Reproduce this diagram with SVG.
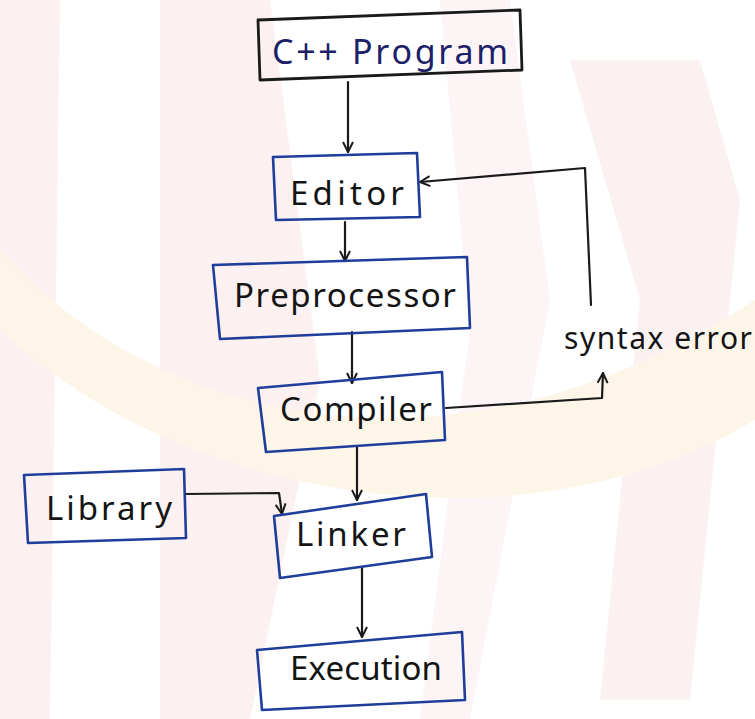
<svg xmlns="http://www.w3.org/2000/svg" width="755" height="719" viewBox="0 0 755 719">
<defs>
<style>
.box{fill:none;stroke:#1f3d9a;stroke-width:2.6;stroke-linejoin:round}
.boxk{fill:none;stroke:#1a1a1a;stroke-width:2.8;stroke-linejoin:round}
.lbl{font-family:"Noto Sans","DejaVu Sans",sans-serif;fill:#141414;font-size:33px}
.wire{fill:none;stroke:#1a1a1a;stroke-width:2.2;stroke-linecap:round;stroke-linejoin:round}
</style>
<marker id="ah" viewBox="0 0 12 12" refX="11" refY="6" markerWidth="12" markerHeight="12" markerUnits="userSpaceOnUse" orient="auto">
<path d="M1,1 L11,6 L1,11" fill="none" stroke="#1a1a1a" stroke-width="2"/>
</marker>
</defs>
<rect width="755" height="719" fill="#ffffff"/>
<g id="watermark" opacity="0.55">
<path d="M0,0 L60,0 L50,719 L0,719 Z" fill="#fbe4e4"/>
<path d="M160,0 L270,0 L320,380 L250,719 L160,719 Z" fill="#fbe4e4"/>
<path d="M440,0 L510,0 L550,300 L470,719 L420,719 L470,330 Z" fill="#fdeeee"/>
<path d="M570,60 L700,60 L740,200 L690,700 L600,700 L640,300 Z" fill="#fbe6e6"/>
<path d="M0,250 C150,420 450,500 755,300 L755,420 C520,560 180,500 0,330 Z" fill="#fdf0d6"/>
</g>
<g id="connectors">
<path class="wire" d="M348,82 L348,152" marker-end="url(#ah)"/>
<path class="wire" d="M345,222 L345,261" marker-end="url(#ah)"/>
<path class="wire" d="M352,332 L352,383" marker-end="url(#ah)"/>
<path class="wire" d="M446,408 L602,398 L603,373" marker-end="url(#ah)"/>
<path class="wire" d="M591,305 L585,168 L420,182" marker-end="url(#ah)"/>
<path class="wire" d="M357,447 L357,500" marker-end="url(#ah)"/>
<path class="wire" d="M186,494 L279,493 L282,514" marker-end="url(#ah)"/>
<path class="wire" d="M362,567 L362,637" marker-end="url(#ah)"/>
</g>
<g id="node-cpp">
<path class="boxk" d="M258,20 L520,10 L522,70 L260,80 Z"/>
<text class="lbl" x="272" y="64" textLength="236" lengthAdjust="spacing" style="fill:#1b2068;font-size:34px">C++  Program</text>
</g>
<g id="node-editor">
<path class="box" d="M273,157 L417,153 L420,217 L276,220 Z"/>
<text class="lbl" x="290" y="205" textLength="114" lengthAdjust="spacing">Editor</text>
</g>
<g id="node-preprocessor">
<path class="box" d="M213,265 L467,257 L470,328 L220,339 Z"/>
<text class="lbl" x="234" y="307" textLength="222" lengthAdjust="spacing">Preprocessor</text>
</g>
<g id="node-syntax">
<text class="lbl" x="564" y="349" textLength="188" lengthAdjust="spacing" style="font-size:30px">syntax error</text>
</g>
<g id="node-compiler">
<path class="box" d="M258,388 L442,372 L445,440 L266,452 Z"/>
<text class="lbl" x="280" y="421" textLength="152" lengthAdjust="spacing">Compiler</text>
</g>
<g id="node-library">
<path class="box" d="M24,475 L184,469 L186,538 L28,543 Z"/>
<text class="lbl" x="46" y="520" textLength="126" lengthAdjust="spacing">Library</text>
</g>
<g id="node-linker">
<path class="box" d="M274,516 L426,494 L432,557 L280,578 Z"/>
<text class="lbl" x="296" y="546" textLength="110" lengthAdjust="spacing">Linker</text>
</g>
<g id="node-execution">
<path class="box" d="M257,650 L462,632 L465,700 L262,710 Z"/>
<text class="lbl" x="290" y="680" textLength="152" lengthAdjust="spacing">Execution</text>
</g>
</svg>
